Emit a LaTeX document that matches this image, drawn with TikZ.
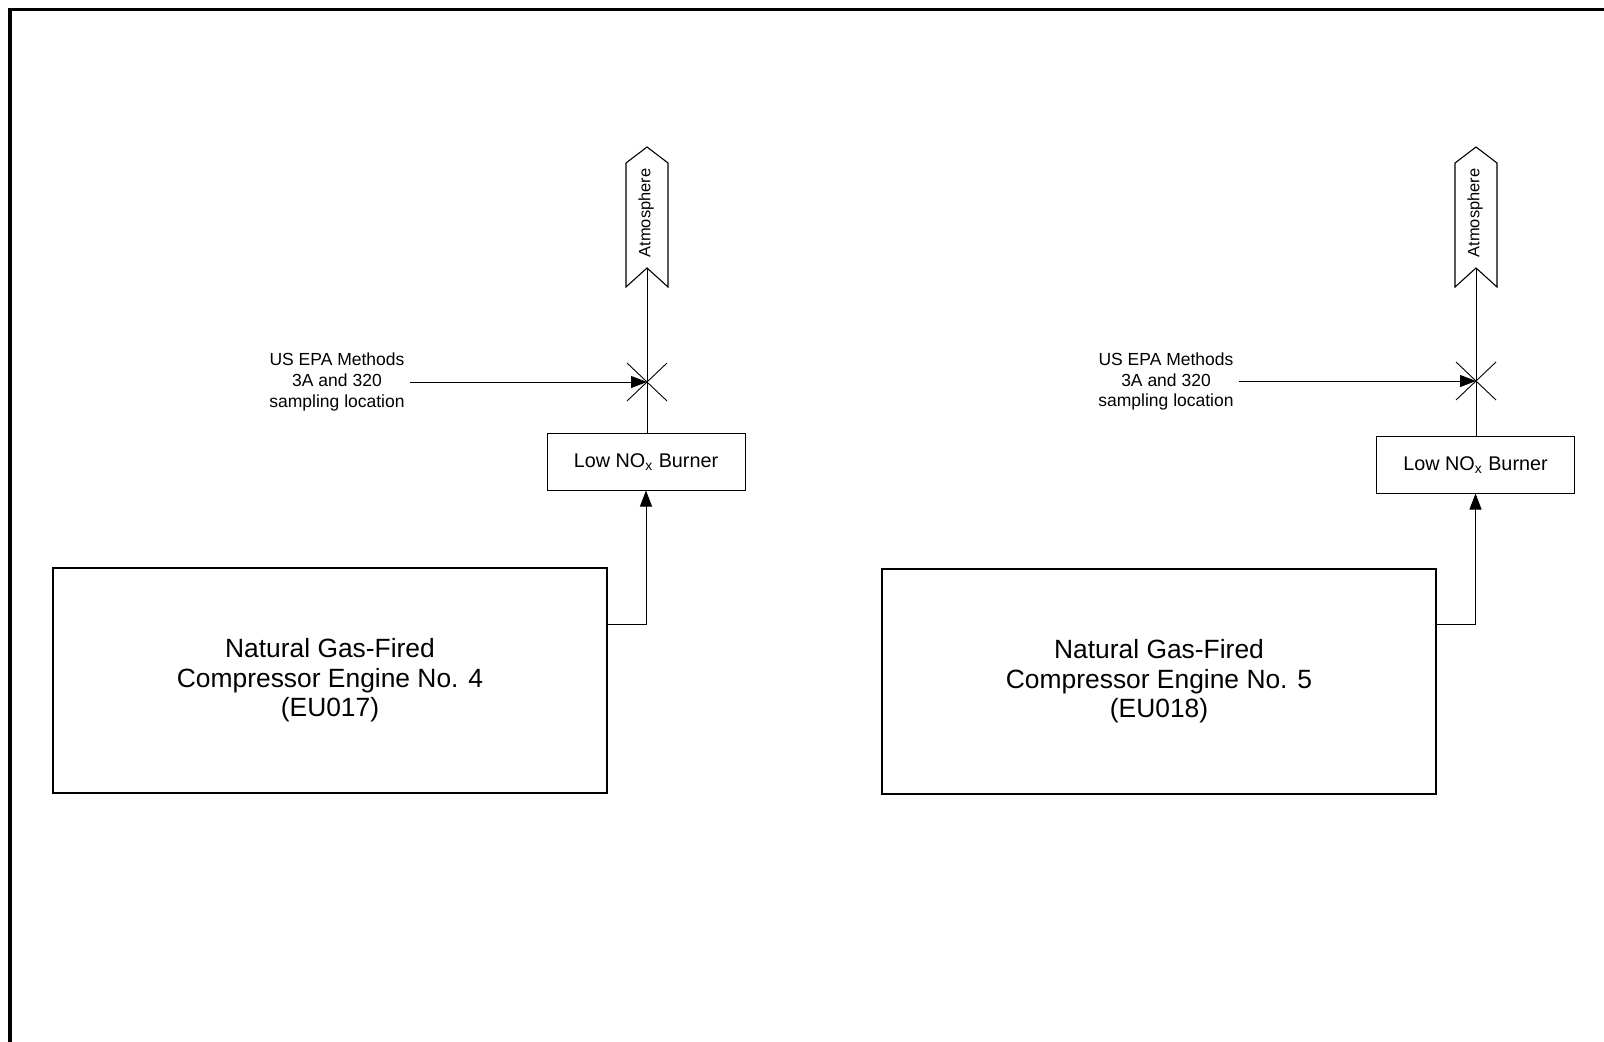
\documentclass[tikz,border=0pt]{standalone}
\usepackage{fontspec}
\setmainfont{Liberation Sans}
\usetikzlibrary{arrows.meta,calc}
\begin{document}
\begin{tikzpicture}[x=0.5pt,y=-0.5pt,
  thinline/.style={line width=0.45pt},
  enginebox/.style={draw, line width=0.6pt, inner sep=0pt, align=center,
    minimum width=277pt, minimum height=112.5pt,
    font=\fontsize{13.2}{14.8}\selectfont},
  burnerbox/.style={draw, line width=0.5pt, inner sep=0pt,
    minimum width=99pt, minimum height=28pt,
    font=\fontsize{9.9}{11}\selectfont},
  samplelabel/.style={align=center, inner sep=0pt,
    font=\fontsize{8.75}{10.4}\selectfont},
  atmtext/.style={rotate=90, inner sep=0pt, font=\fontsize{8.2}{9}\selectfont},
  atmshape/.style={draw, line width=0.55pt},
  flowarrow/.style={thinline, -{Triangle[length=8pt,width=6pt]}},
  xmark/.style={line width=0.45pt}
]
\useasboundingbox (0,0) rectangle (1604,1042);
% page border (top and left visible)
\draw[line width=1.6pt] (10,1042) -- (10,9.5) -- (1604,9.5);

% ================= left unit =================
\node[enginebox] (eng1) at (330,680.5) {Natural Gas-Fired\\Compressor Engine No. 4\\(EU017)};
\node[burnerbox] (bur1) at (646,462) {Low NO\textsubscript{x} Burner};
\node[atmtext] (atm1) at (646,213) {Atmosphere};
\draw[atmshape] (626,163) -- (647,147) -- (668,163) -- (668,287) -- (647,268) -- (626,287) -- cycle;
\coordinate (n1) at (647,268);
\coordinate (x1) at (647,382);
\draw[thinline] (bur1.north -| x1) -- (n1);
\draw[xmark] ($(x1)+(-20,-19)$) -- ($(x1)+(20,19)$);
\draw[xmark] ($(x1)+(-20,19)$) -- ($(x1)+(20,-19)$);
\node[samplelabel] (lab1) at (337,382) {US EPA Methods\\3A and 320\\sampling location};
\coordinate (s1) at (410,382);
\draw[flowarrow] (s1) -- (x1);
\draw[flowarrow] ([yshift=27.9pt]eng1.east) -| (bur1.south);

% ================= right unit =================
\node[enginebox] (eng2) at (1159,681.5) {Natural Gas-Fired\\Compressor Engine No. 5\\(EU018)};
\node[burnerbox] (bur2) at (1475.5,465) {Low NO\textsubscript{x} Burner};
\node[atmtext] (atm2) at (1475,213) {Atmosphere};
\draw[atmshape] (1455,163) -- (1476,147) -- (1497,163) -- (1497,287) -- (1476,268) -- (1455,287) -- cycle;
\coordinate (n2) at (1476,268);
\coordinate (x2) at (1476,381);
\draw[thinline] (bur2.north -| x2) -- (n2);
\draw[xmark] ($(x2)+(-20,-19)$) -- ($(x2)+(20,19)$);
\draw[xmark] ($(x2)+(-20,19)$) -- ($(x2)+(20,-19)$);
\node[samplelabel] (lab2) at (1166,381.5) {US EPA Methods\\3A and 320\\sampling location};
\coordinate (s2) at (1239,381);
\draw[flowarrow] (s2) -- (x2);
\draw[flowarrow] ([yshift=28.75pt]eng2.east) -| (bur2.south);
\end{tikzpicture}
\end{document}
